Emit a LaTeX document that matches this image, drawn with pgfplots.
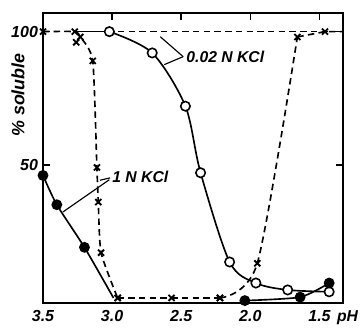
\documentclass[border=0pt]{standalone}
\usepackage{pgfplots}
\pgfplotsset{compat=1.18}
\usepackage{fontspec}
\setmainfont{Liberation Sans}
\begin{document}
\begin{tikzpicture}
\begin{axis}[
  scale only axis, width=210pt, height=203pt,
  x dir=reverse, xmin=1.33, xmax=3.5, ymin=-1.9, ymax=107,
  axis line style={line width=1.3pt},
  xtick={3.5,3.0,2.5,2.0,1.5}, xticklabels={3.5,3.0,2.5,2.0,1.5},
  ytick={50,100}, yticklabels={50,100},
  xtick pos=right, xticklabel pos=left,
  ytick pos=both, yticklabel pos=left,
  tick align=inside, major tick length=5pt,
  tick style={line width=1.1pt, black},
  xticklabel style={yshift=-1.5pt},
  font=\fontsize{11}{13}\selectfont\bfseries\itshape,
  tick label style={font=\fontsize{11.2}{13}\selectfont\bfseries\itshape},
  clip=false,
]
% top dashed line (0.02 N KCl)
\addplot[black, line width=1.15pt, dash pattern=on 4.5pt off 3pt] coordinates {(3.5,100) (1.33,100)};
% x-mark dashed curve (1 N KCl): left plateau and descent
\addplot[black, line width=1.15pt, dash pattern=on 4.5pt off 3pt, smooth, tension=0.35,
  mark=x, mark size=3pt, mark options={solid, line width=1.3pt}]
  coordinates {(3.5,100) (3.27,100) (3.23,98) (3.14,89) (3.11,49) (3.10,36) (3.08,17) (2.96,0)};
% bottom
\addplot[black, line width=1.15pt, dash pattern=on 4.5pt off 3pt,
  mark=x, mark size=3pt, mark options={solid, line width=1.3pt}]
  coordinates {(2.96,0) (2.57,0) (2.22,0)};
% rise
\addplot[black, line width=1.15pt, dash pattern=on 4.5pt off 3pt, smooth, tension=0.45,
  mark=x, mark size=3pt, mark options={solid, line width=1.3pt}]
  coordinates {(2.22,0) (1.95,13) (1.66,98)};
\addplot[black, line width=1.15pt, dash pattern=on 4.5pt off 3pt,
  mark=x, mark size=3pt, mark options={solid, line width=1.3pt}, mark indices={2}]
  coordinates {(1.66,98) (1.46,100) (1.33,100)};
\addplot[only marks, mark=x, mark size=3pt, mark options={solid, line width=1.3pt}] coordinates {(3.26,96)};
% open circles (0.02 N KCl, solid)
\addplot[black, line width=1.15pt] coordinates {(3.25,100) (3.02,100)};
\addplot[black, line width=1.15pt, smooth, tension=0.5,
  mark=*, mark size=3.3pt, mark options={solid, fill=white, draw=black, line width=1.1pt}]
  coordinates {(3.02,100) (2.71,92) (2.47,72) (2.36,47) (2.15,13.5) (1.96,5.6) (1.73,3) (1.43,2.3)};
% filled circles (1 N KCl, solid)
\addplot[black, line width=1.15pt, smooth, tension=0.4,
  mark=*, mark size=3.2pt, mark options={solid, fill=black},
  mark indices={1,2,3}]
  coordinates {(3.5,46) (3.40,35) (3.20,19) (2.99,0)};
\addplot[black, line width=1.15pt, smooth, tension=0.4,
  mark=*, mark size=3.2pt, mark options={solid, fill=black}]
  coordinates {(2.04,-1) (1.64,0.3) (1.43,5.6)};
% annotations
\draw[line width=0.8pt] (axis cs:2.486,90.6) -- (axis cs:2.652,98.1);
\draw[line width=0.8pt] (axis cs:2.486,90.6) -- (axis cs:2.623,87.6);
\node[anchor=west, inner sep=0pt] at (axis cs:2.464,90.6) {0.02 N KCl};
\draw[line width=0.8pt] (axis cs:3.014,45.1) -- (axis cs:3.087,44.2);
\draw[line width=0.8pt] (axis cs:3.02,44.4) -- (axis cs:3.355,32.3);
\node[anchor=west, inner sep=0pt] at (axis cs:3.0,45.5) {1 N KCl};
\node[rotate=90, inner sep=0pt, font=\fontsize{12.5}{14}\selectfont\bfseries\itshape] at (rel axis cs:-0.0833,0.717) {\% soluble};
\node[inner sep=0pt] at (rel axis cs:1.015,-0.0517) {pH};
\path (rel axis cs:-0.1433,-0.0897) rectangle (rel axis cs:1.0567,1.0448);
\end{axis}
\end{tikzpicture}
\end{document}
